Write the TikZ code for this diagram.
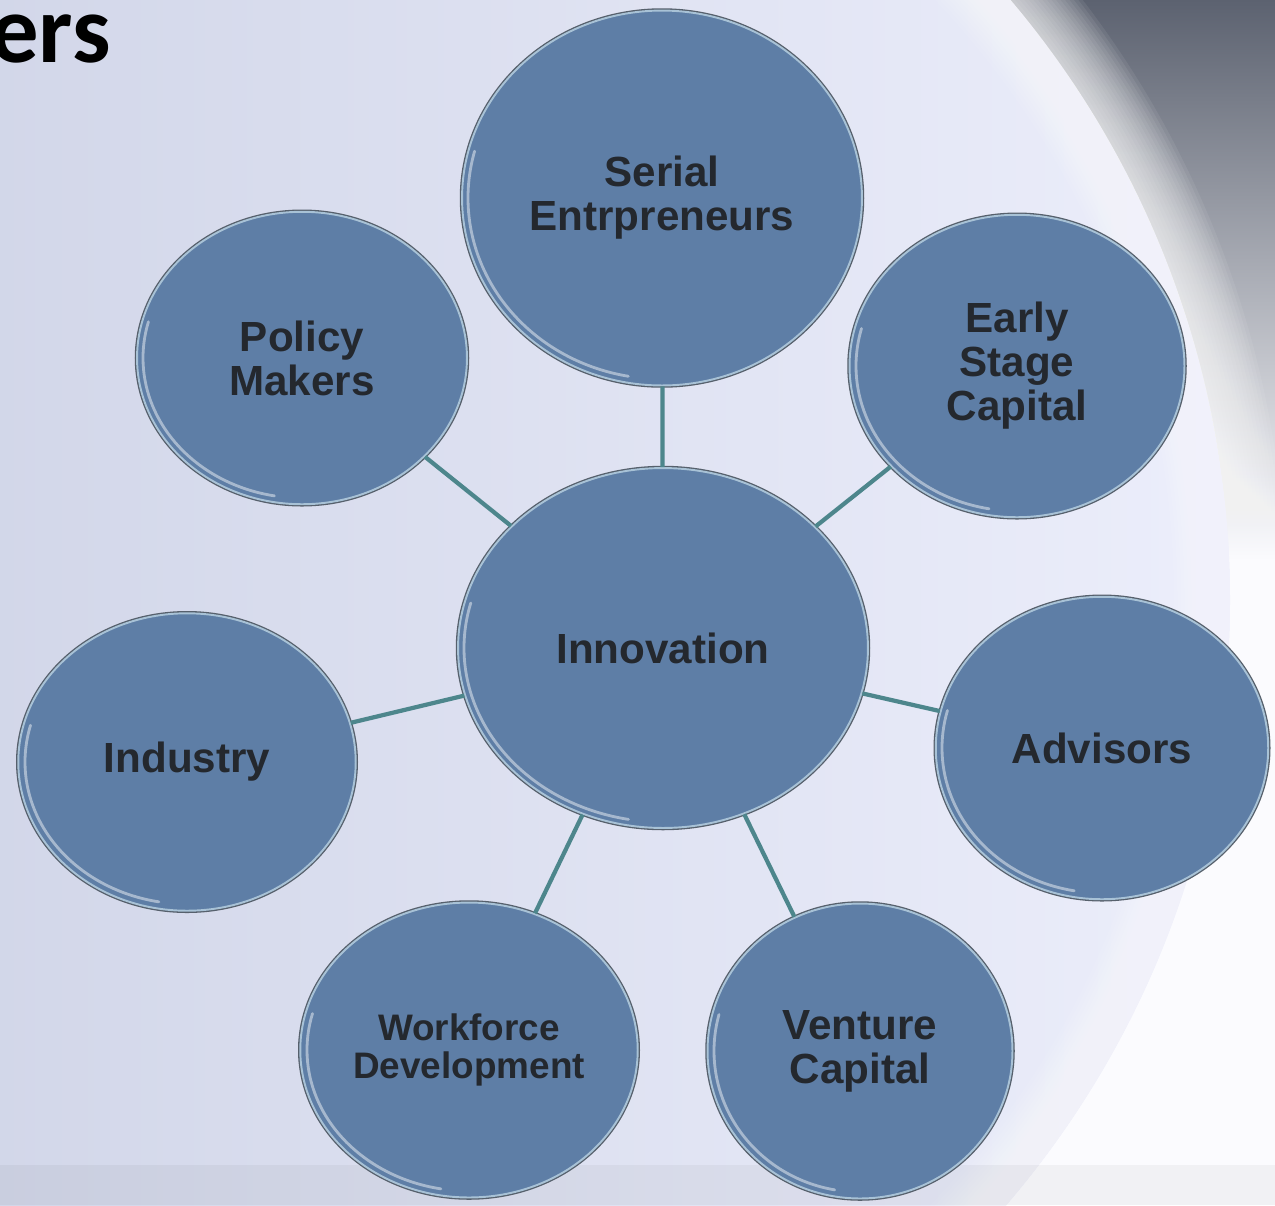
\documentclass[tikz,border=0pt]{standalone}
\usepackage{fontspec}
\setmainfont{Liberation Sans}
\newfontfamily\titlefont{Carlito}
\usepackage{tikz}
\usetikzlibrary{shapes.geometric,calc,positioning}

\definecolor{bgdark}{HTML}{5C6270}
\definecolor{bgwhite}{HTML}{FBFBFE}
\definecolor{bgleft}{HTML}{C5CBE0}
\definecolor{bglav}{HTML}{D6DBF6}
\definecolor{bgrim}{HTML}{ECEEFB}
\definecolor{bubblefill}{HTML}{5E7EA6}
\definecolor{bubblerim}{HTML}{A8C2D6}
\definecolor{bubbleedge}{HTML}{56606C}
\definecolor{spokecol}{HTML}{4D868C}
\definecolor{labeltext}{HTML}{24282E}

\tikzset{
  bubble/.style={ellipse, fill=bubblefill, draw=bubblerim, line width=1.1pt,
    preaction={draw=bubbleedge, line width=2.6pt},
    text=labeltext, align=center, inner sep=0pt,
    font=\bfseries\fontsize{24}{25}\selectfont},
  spoke/.style={draw=spokecol, line width=2.4pt},
  gleam/.style={draw=white, opacity=.45, line width=1.6pt, line cap=round},
}

\begin{document}
\begin{tikzpicture}[x=0.02cm,y=-0.02cm]

\useasboundingbox (0,0) rectangle (1275,1205);
\clip (0,0) rectangle (1275,1205);

%Backdrop
\fill[bgwhite] (0,0) rectangle (1275,1205);
\shade[top color=bgdark, bottom color=bgwhite] (650,0) rectangle (1275,560);
\shade[left color=bgleft, middle color=bglav, right color=bgrim] (300,600) circle[radius=930];
\foreach \w in {4,8,...,64}
  \draw[white, opacity=.07, line width=\w pt] (300,600) circle[radius=930];
\fill[black, opacity=.04] (0,1165) rectangle (1275,1205);

%Title (cut off)
\node[anchor=base west, inner sep=0pt, font=\titlefont\bfseries\fontsize{55}{55}\selectfont] (ttl) at (-10,62) {ers};

%Bubbles
\node[bubble, minimum width=8.2cm, minimum height=7.2cm]   (inno)      at (663,648)  {Innovation};
\node[bubble, minimum width=8cm, minimum height=7.5cm]     (serial)    at (662,198)  {Serial\\Entrpreneurs};
\node[bubble, minimum width=6.6cm, minimum height=5.85cm]  (policy)    at (302,358)  {Policy\\Makers};
\node[bubble, minimum width=6.7cm, minimum height=6.05cm]  (early)     at (1017,366) {Early\\Stage\\Capital};
\node[bubble, minimum width=6.75cm, minimum height=5.95cm] (industry)  at (187,762)  {Industry};
\node[bubble, minimum width=6.65cm, minimum height=6.05cm] (advisors)  at (1102,748) {Advisors};
\node[bubble, minimum width=6.75cm, minimum height=5.9cm,
      font=\bfseries\fontsize{21}{22}\selectfont]          (workforce) at (469,1050) {Workforce\\Development};
\node[bubble, minimum width=6.1cm, minimum height=5.9cm]   (venture)   at (860,1051) {Venture\\Capital};

%Glass highlight along lower left rims
\foreach \n/\rx/\ry in {inno/205/180,serial/200/187,policy/165/146,early/167/151,
                        industry/168/148,advisors/166/151,workforce/168/147,venture/152/147}
  \draw[gleam] ($(\n.center)+(100:\rx-6 and \ry-6)$) arc[start angle=100, end angle=195, x radius=\rx-6, y radius=\ry-6];

%Spokes
\foreach \o in {serial,policy,early,industry,advisors,workforce,venture}
  \draw[spoke] (inno) -- (\o);

\end{tikzpicture}
\end{document}
